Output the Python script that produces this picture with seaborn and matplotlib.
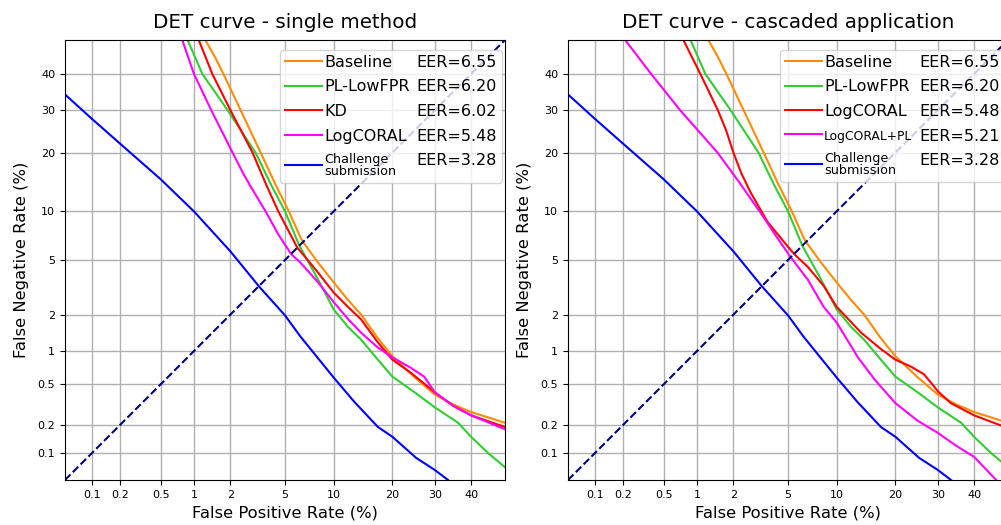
import numpy as np
import pandas as pd
import matplotlib
matplotlib.use('Agg')
import matplotlib.pyplot as plt
import seaborn as sns
from matplotlib.lines import Line2D
from matplotlib.ticker import FixedLocator, NullLocator
from statistics import NormalDist

# DET curve points (FPR %, FNR %)
baseline_fpr = [1.25, 1.5, 1.76, 2.4, 3.38, 4.3, 5.3, 6.3, 6.55, 8.1, 10, 12, 14.1, 17, 20, 24.8, 30, 35, 40, 50]
baseline_fnr = [50, 45, 40, 30, 20, 14, 10, 7.0, 6.55, 4.8, 3.5, 2.6, 2.0, 1.3, 0.9, 0.59, 0.40, 0.32, 0.27, 0.21]

pl_fpr = [0.88, 1.18, 1.9, 3.1, 4.0, 5.0, 6.2, 8.1, 10, 12, 14.1, 17, 20, 25, 30, 36.3, 40, 45, 50]
pl_fnr = [50, 40, 30, 20, 14, 10, 6.2, 3.67, 2.2, 1.6, 1.25, 0.85, 0.59, 0.42, 0.30, 0.21, 0.15, 0.10, 0.07]

kd_fpr = [1.1, 1.43, 2.0, 2.95, 3.7, 4.5, 6.02, 7.0, 8.1, 10, 12, 14.1, 17, 20, 24.1, 30, 35, 40, 50]
kd_fnr = [50, 40, 30, 20, 14, 10, 6.02, 5.0, 4.1, 2.95, 2.3, 1.83, 1.2, 0.84, 0.64, 0.42, 0.31, 0.25, 0.19]

coral_fpr = [0.79, 1.0, 1.4, 2.08, 2.5, 2.85, 3.67, 4.5, 5.48, 6.3, 8.1, 10, 12, 14.1, 17, 20, 24.1, 27.3, 30, 35, 40, 50]
coral_fnr = [50, 40, 30, 20, 16, 13.7, 10, 7.3, 5.48, 4.8, 3.5, 2.5, 1.85, 1.43, 1.08, 0.88, 0.71, 0.59, 0.42, 0.31, 0.25, 0.18]

# LogCORAL in the cascaded setting
coral_c_fpr = [0.76, 1.07, 1.5, 1.75, 2.0, 2.3, 2.7, 3.6, 5.0, 5.48, 6.7, 8.4, 10, 13.6, 17, 20, 23.4, 26.5, 29, 30, 33.5, 40, 50]
coral_c_fnr = [50, 40, 30, 25, 20, 16, 12.8, 8.7, 6.1, 5.48, 4.5, 3.3, 2.3, 1.43, 1.05, 0.84, 0.73, 0.62, 0.48, 0.43, 0.33, 0.25, 0.185]

coralpl_fpr = [0.21, 0.38, 0.71, 1.49, 2.2, 3.16, 4.2, 5.21, 6.7, 8.4, 10, 13.1, 16, 20, 25, 30, 35, 40, 46.5]
coralpl_fnr = [50, 40, 30, 20, 14.5, 10, 7.0, 5.21, 3.67, 2.3, 1.73, 0.88, 0.55, 0.33, 0.22, 0.165, 0.12, 0.091, 0.05]

chal_fpr = [0.05, 0.1, 0.2, 0.5, 1, 2, 3.28, 5, 6.3, 10, 13, 17.1, 20, 25.3, 30, 33.5]
chal_fnr = [34.2, 27.8, 21.9, 14.9, 10, 5.7, 3.28, 1.97, 1.33, 0.58, 0.34, 0.19, 0.15, 0.089, 0.065, 0.05]

tick_vals = [0.1, 0.2, 0.5, 1, 2, 5, 10, 20, 30, 40]
tick_labels = ['0.1', '0.2', '0.5', '1', '2', '5', '10', '20', '30', '40']

nd = NormalDist()
_ppf = np.vectorize(nd.inv_cdf, otypes=[float])
_cdf = np.vectorize(nd.cdf, otypes=[float])


def probit(p):
    p = np.clip(np.asarray(p, dtype=float) / 100.0, 1e-9, 1 - 1e-9)
    return _ppf(p)


def inv_probit(z):
    return _cdf(np.asarray(z, dtype=float)) * 100.0


def make_df(curves):
    parts = []
    for name, fpr, fnr in curves:
        parts.append(pd.DataFrame({'fpr': fpr, 'fnr': fnr, 'method': name}))
    return pd.concat(parts, ignore_index=True)


def draw_panel(ax, curves, colors, eers, title, small):
    df = make_df(curves)
    names = [c[0] for c in curves]
    sns.lineplot(data=df, x='fpr', y='fnr', hue='method', hue_order=names,
                 palette=colors, sort=False, estimator=None, legend=False,
                 linewidth=1.5, ax=ax)
    ax.plot([0.05, 50], [0.05, 50], ls='--', color='navy', lw=1.5)
    ax.set_xscale('function', functions=(probit, inv_probit))
    ax.set_yscale('function', functions=(probit, inv_probit))
    ax.set_xlim(0.05, 50)
    ax.set_ylim(0.05, 50)
    ax.xaxis.set_major_locator(FixedLocator(tick_vals))
    ax.yaxis.set_major_locator(FixedLocator(tick_vals))
    ax.xaxis.set_minor_locator(NullLocator())
    ax.yaxis.set_minor_locator(NullLocator())
    ax.set_xticklabels(tick_labels, fontsize=8)
    ax.set_yticklabels(tick_labels, fontsize=8)
    ax.grid(True, color='#b0b0b0', lw=1)
    ax.set_axisbelow(True)
    ax.set_xlabel('False Positive Rate (%)', fontsize=11.8)
    ax.set_ylabel('False Negative Rate (%)', fontsize=11.8, labelpad=6)
    ax.set_title(title, fontsize=14.3, pad=9)

    h1 = [Line2D([], [], color=colors[n], lw=1.5) for n in names]
    h2 = [Line2D([], [], color='none') for _ in eers]
    labels = names + ['EER=' + e for e in eers]
    leg = ax.legend(h1 + h2, labels, ncol=2, loc='upper right',
                    bbox_to_anchor=(0.993, 0.977), borderaxespad=0,
                    fontsize=11.5, handlelength=2.3, handletextpad=0.15,
                    columnspacing=-2.0, labelspacing=0.6, borderpad=0.3,
                    framealpha=0.8)
    for t in leg.get_texts()[:len(names)]:
        if t.get_text() in small:
            t.set_fontsize(small[t.get_text()])
            t.set_linespacing(0.85)


fig = plt.figure(figsize=(10.01, 5.25), dpi=100)
ax1 = fig.add_axes([65 / 1001, 45 / 525, 440 / 1001, 440 / 525])
ax2 = fig.add_axes([568 / 1001, 45 / 525, 440 / 1001, 440 / 525])

chal = 'Challenge\nsubmission'
left_curves = [('Baseline', baseline_fpr, baseline_fnr),
               ('PL-LowFPR', pl_fpr, pl_fnr),
               ('KD', kd_fpr, kd_fnr),
               ('LogCORAL', coral_fpr, coral_fnr),
               (chal, chal_fpr, chal_fnr)]
left_colors = {'Baseline': 'darkorange', 'PL-LowFPR': 'limegreen', 'KD': 'red',
               'LogCORAL': 'magenta', chal: 'blue'}
draw_panel(ax1, left_curves, left_colors, ['6.55', '6.20', '6.02', '5.48', '3.28'],
           'DET curve - single method', {chal: 9.2})

right_curves = [('Baseline', baseline_fpr, baseline_fnr),
                ('PL-LowFPR', pl_fpr, pl_fnr),
                ('LogCORAL', coral_c_fpr, coral_c_fnr),
                ('LogCORAL+PL', coralpl_fpr, coralpl_fnr),
                (chal, chal_fpr, chal_fnr)]
right_colors = {'Baseline': 'darkorange', 'PL-LowFPR': 'limegreen', 'LogCORAL': 'red',
                'LogCORAL+PL': 'magenta', chal: 'blue'}
draw_panel(ax2, right_curves, right_colors, ['6.55', '6.20', '5.48', '5.21', '3.28'],
           'DET curve - cascaded application', {chal: 9.2, 'LogCORAL+PL': 8.9})

fig.savefig('out.png', dpi=100)
